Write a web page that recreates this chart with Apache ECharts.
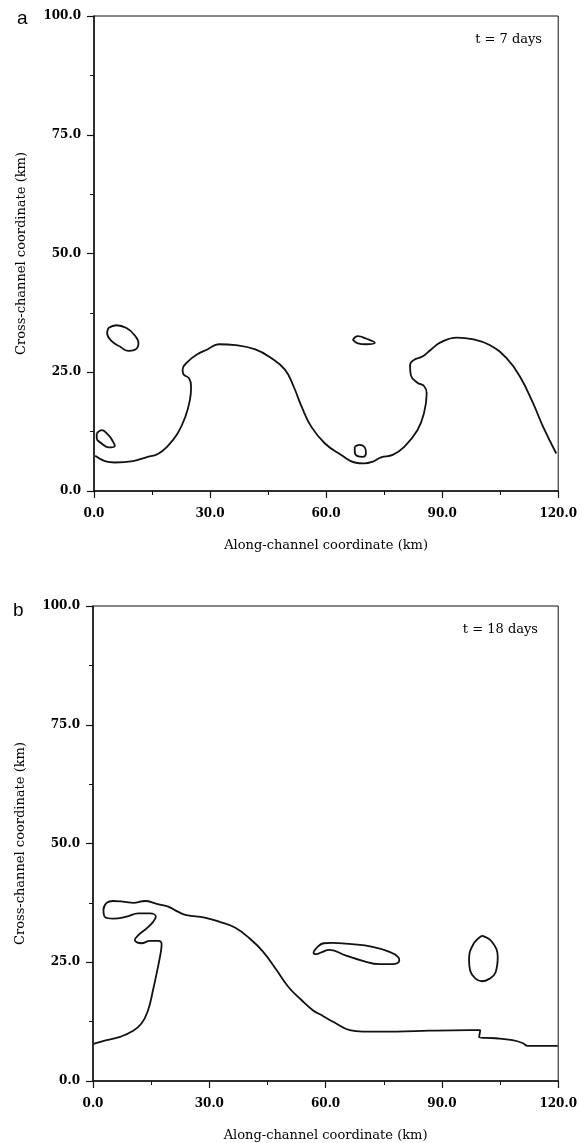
<!DOCTYPE html>
<html>
<head>
<meta charset="utf-8">
<title>Front contours</title>
<script src="https://cdn.jsdelivr.net/npm/echarts@6/dist/echarts.min.js"></script>
<style>
  html, body { margin: 0; padding: 0; background: #fff; }
  #chart { width: 580px; height: 1143px; }
</style>
</head>
<body>
<div id="chart"></div>
<script>
// axis ticks (km)
var xTicks = [0, 30, 60, 90, 120];
var yTicks = [0, 25, 50, 75, 100];

// panel a, t = 7 days  -- [along, cross] in km
var a_front = [
  [0.3, 7.4], [2.8, 6.3], [5.4, 6.0], [10.1, 6.3], [13.5, 7.1], [16.5, 7.8], [19.1, 9.5],
  [21.6, 12.1], [23.6, 15.6], [24.8, 19.2], [25.1, 22.0], [24.6, 23.7], [23.1, 24.6],
  [22.9, 25.6], [24.2, 27.2], [26.7, 28.8], [29.3, 29.8], [32.3, 30.9], [36.6, 30.7],
  [41.7, 29.8], [45.6, 28.1], [49.4, 25.5], [51.6, 22.0], [53.7, 17.7], [56.2, 13.5],
  [59.7, 10.0], [63.9, 7.6], [67.4, 6.0], [69.9, 5.8], [72.1, 6.2], [74.2, 7.1],
  [77.2, 7.6], [80.2, 9.3], [83.6, 12.8], [85.3, 16.4], [86.0, 20.6], [85.3, 22.1],
  [83.6, 22.8], [81.9, 24.4], [81.7, 26.5], [82.7, 27.6], [84.9, 28.3], [87.0, 29.7],
  [89.6, 31.3], [93.8, 32.3], [98.1, 31.9], [102.4, 30.7], [106.7, 27.9], [110.1, 24.1],
  [113.5, 18.5], [116.1, 13.5], [119.5, 7.9]
];
var a_eddy1 = [
  [3.7, 34.3], [5.8, 34.9], [8.4, 34.3], [10.5, 32.8], [11.5, 31.1], [10.5, 29.7],
  [8.8, 29.5], [6.7, 30.4], [4.5, 31.6], [3.4, 33.2], [3.7, 34.3]
];
var a_eddy2 = [
  [0.7, 12.1], [2.0, 12.8], [3.7, 11.8], [4.9, 10.4], [5.4, 9.5], [3.7, 9.2],
  [2.0, 10.0], [0.7, 11.1], [0.7, 12.1]
];
var a_eddy3 = [
  [66.9, 31.8], [68.2, 32.6], [70.3, 32.1], [72.6, 31.2], [70.3, 30.9], [68.2, 31.1], [66.9, 31.8]
];
var a_eddy4 = [
  [67.4, 9.3], [68.6, 9.7], [70.1, 9.0], [70.3, 7.9], [69.5, 7.2], [68.0, 7.4], [67.4, 8.3], [67.4, 9.3]
];

// panel b, t = 18 days
var b_front = [
  [0.1, 7.8], [3.5, 8.6], [7.0, 9.3], [10.0, 10.4], [12.5, 12.1], [14.2, 14.9], [15.5, 19.2],
  [16.6, 23.4], [17.5, 27.2], [17.7, 28.8], [16.8, 29.5], [14.7, 29.5], [12.5, 29.0],
  [10.8, 29.7], [11.7, 30.7], [13.8, 32.1], [15.5, 33.5], [16.2, 34.6], [14.7, 35.3],
  [11.7, 35.3], [8.7, 34.6], [5.2, 34.2], [3.1, 34.5], [2.7, 36.0], [3.5, 37.5],
  [5.2, 37.9], [8.2, 37.7], [10.4, 37.5], [13.4, 37.9], [16.4, 37.3], [19.4, 36.7],
  [22.0, 35.6], [24.1, 34.9], [28.8, 34.4], [32.7, 33.5], [36.6, 32.3], [40.4, 30.0],
  [43.9, 27.2], [47.3, 23.4], [50.3, 19.9], [53.7, 17.1], [56.7, 14.9], [59.3, 13.7],
  [62.3, 12.3], [66.2, 10.7], [69.6, 10.4], [78.2, 10.4], [86.8, 10.6], [97.1, 10.7],
  [99.9, 10.7], [99.6, 9.2], [103.9, 9.0], [108.2, 8.6], [110.8, 8.0], [112.1, 7.4],
  [116.0, 7.4], [119.9, 7.4]
];
var b_eddy1 = [
  [56.9, 27.2], [58.0, 28.3], [59.5, 29.0], [61.6, 29.1], [66.7, 28.8], [71.8, 28.3],
  [76.5, 27.2], [78.8, 26.0], [79.0, 25.3], [77.3, 24.6], [73.9, 24.6], [69.6, 25.3],
  [65.3, 26.4], [61.0, 27.6], [58.9, 27.1], [57.6, 26.7], [56.9, 27.0], [56.9, 27.2]
];
var b_eddy2 = [
  [100.3, 30.6], [102.9, 29.3], [104.4, 26.1], [103.8, 22.8], [102.2, 21.5], [100.3, 21.0],
  [98.6, 21.6], [97.3, 23.2], [97.0, 25.6], [98.1, 28.8], [100.3, 30.6]
];

var serif = 'DejaVu Serif';

function makeX(idx) {
  return {
    type: 'value', gridIndex: idx,
    min: xTicks[0], max: xTicks[xTicks.length - 1], interval: 30,
    name: 'Along-channel coordinate (km)', nameLocation: 'middle', nameGap: 48,
    nameTextStyle: { fontFamily: serif, fontSize: 13, color: '#000' },
    axisLine: { show: true, lineStyle: { color: '#111', width: 1.5 } },
    axisTick: { show: true, length: 7, lineStyle: { color: '#111', width: 1.2 } },
    minorTick: { show: true, splitNumber: 2, length: 4, lineStyle: { color: '#111', width: 1 } },
    splitLine: { show: false },
    axisLabel: { margin: 17, fontFamily: serif, fontSize: 12, fontWeight: 'bold', color: '#000',
      formatter: function (v) { return v.toFixed(1); } }
  };
}

function makeY(idx) {
  return {
    type: 'value', gridIndex: idx,
    min: yTicks[0], max: yTicks[yTicks.length - 1], interval: 25,
    name: 'Cross-channel coordinate (km)', nameLocation: 'middle', nameGap: 66,
    nameTextStyle: { fontFamily: serif, fontSize: 13, color: '#000' },
    axisLine: { show: true, lineStyle: { color: '#111', width: 1.5 } },
    axisTick: { show: true, length: 7, lineStyle: { color: '#111', width: 1.2 } },
    minorTick: { show: true, splitNumber: 2, length: 4, lineStyle: { color: '#111', width: 1 } },
    splitLine: { show: false },
    axisLabel: { margin: 13, fontFamily: serif, fontSize: 12, fontWeight: 'bold', color: '#000',
      formatter: function (v) { return v.toFixed(1); } }
  };
}

function curve(data, idx) {
  return {
    type: 'line', xAxisIndex: idx, yAxisIndex: idx, data: data,
    showSymbol: false, smooth: 0.45, silent: true,
    lineStyle: { color: '#111', width: 1.8 }
  };
}

var chart = echarts.init(document.getElementById('chart'));
chart.setOption({
  animation: false,
  backgroundColor: '#fff',
  grid: [
    { left: 94, top: 16, width: 469, height: 475, show: true, borderColor: '#111', borderWidth: 1, backgroundColor: 'transparent' },
    { left: 93, top: 606, width: 467, height: 475, show: true, borderColor: '#111', borderWidth: 1, backgroundColor: 'transparent' }
  ],
  xAxis: [makeX(0), makeX(1)],
  yAxis: [makeY(0), makeY(1)],
  series: [
    curve(a_front, 0), curve(a_eddy1, 0), curve(a_eddy2, 0), curve(a_eddy3, 0), curve(a_eddy4, 0),
    curve(b_front, 1), curve(b_eddy1, 1), curve(b_eddy2, 1)
  ],
  graphic: [
    { type: 'text', left: 17, top: 9, style: { text: 'a', font: '19px "Liberation Sans"', fill: '#000' } },
    { type: 'text', left: 13, top: 601, style: { text: 'b', font: '19px "Liberation Sans"', fill: '#000' } },
    { type: 'text', x: 542, y: 40, style: { text: 't = 7 days', font: '13px "DejaVu Serif"', fill: '#000', textAlign: 'right', textVerticalAlign: 'middle' } },
    { type: 'text', x: 538, y: 630, style: { text: 't = 18 days', font: '13px "DejaVu Serif"', fill: '#000', textAlign: 'right', textVerticalAlign: 'middle' } }
  ]
});
</script>
</body>
</html>
